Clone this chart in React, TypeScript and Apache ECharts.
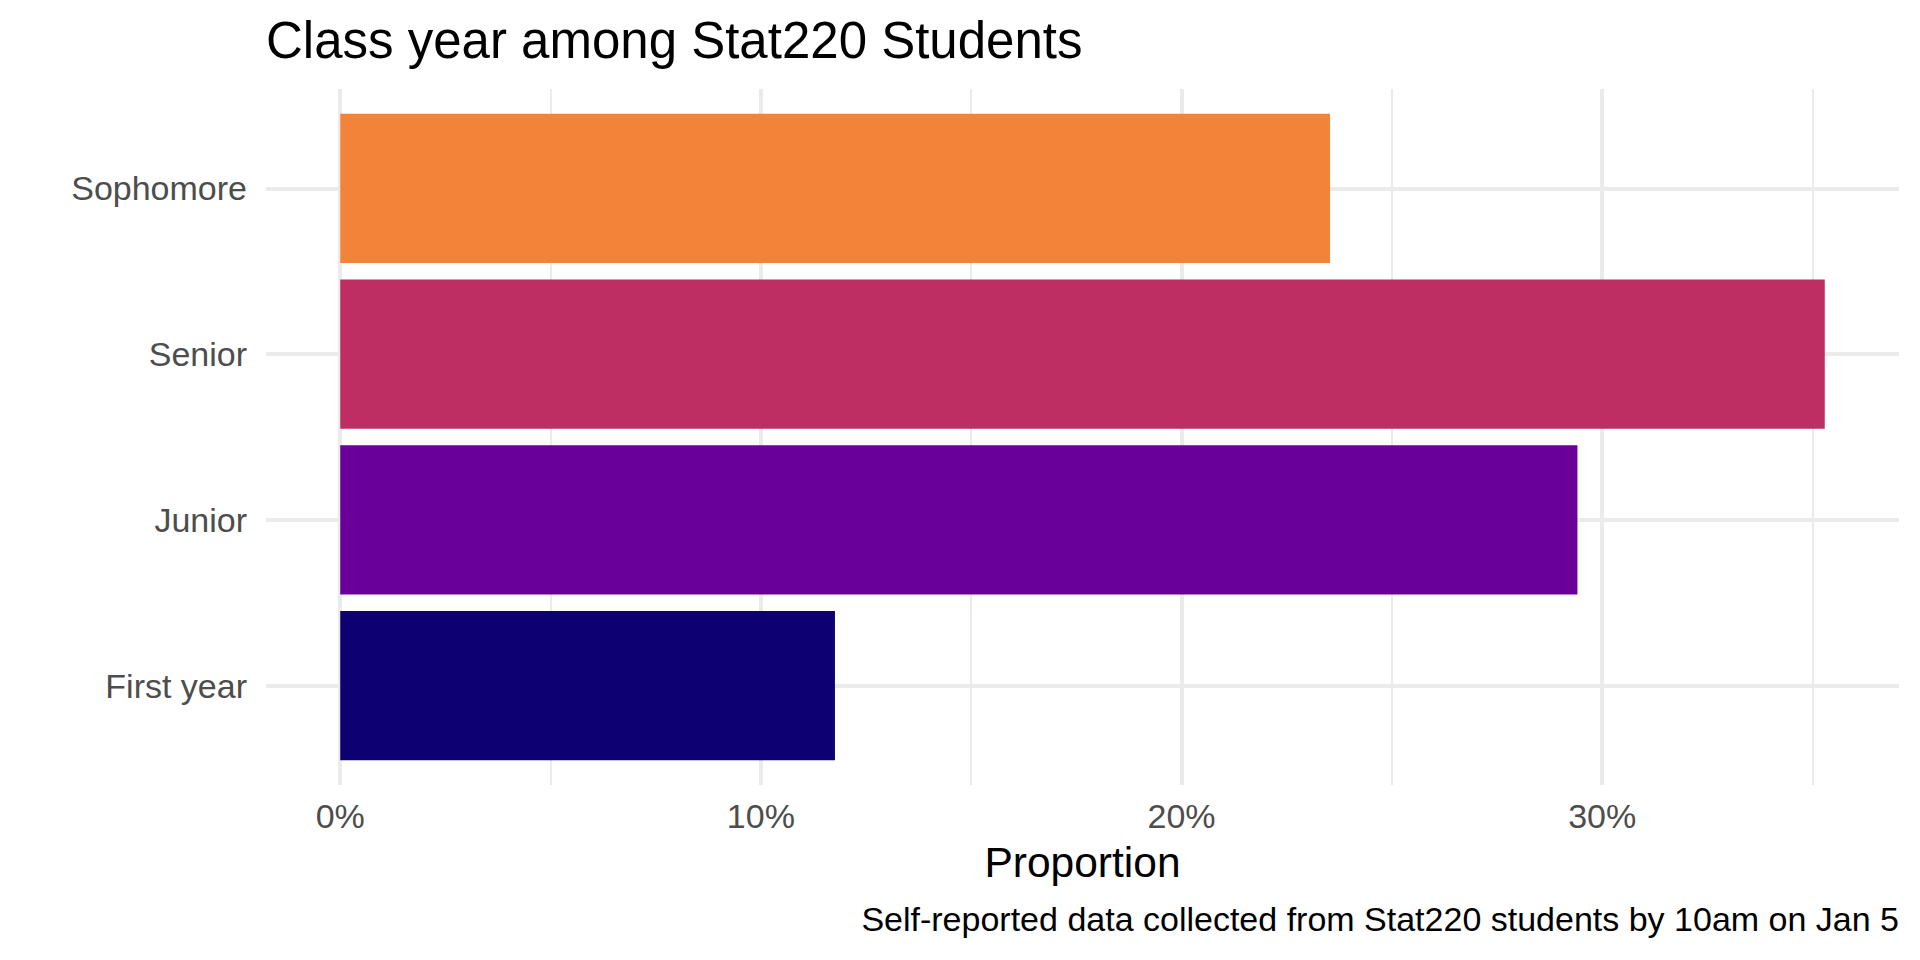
import React, { useEffect, useRef } from "react";
import * as echarts from "echarts";

const categories = ["First year", "Junior", "Senior", "Sophomore"];
const proportions = [11.76, 29.41, 35.29, 23.53];
const barColors = ["#0C0072", "#6A0099", "#BE2E62", "#F4833A"];
const majorTicks = [0, 10, 20, 30];
const minorTicks = [5, 15, 25, 35];
const categoryTicks = [0, 1, 2, 3];

const FONT = "'Liberation Sans', Arial, Helvetica, sans-serif";

export default function App() {
  const ref = useRef<HTMLDivElement>(null);

  useEffect(() => {
    if (!ref.current) return;
    const chart = echarts.init(ref.current, null, { renderer: "svg" });
    const maxVal = Math.max(...proportions);
    const xMin = -0.05 * maxVal;
    const xMax = 1.05 * maxVal;

    const data = proportions.map((v, i) => ({
      value: [v, i],
      itemStyle: { color: barColors[i] },
    }));

    chart.setOption({
      animation: false,
      backgroundColor: "#FFFFFF",
      textStyle: { fontFamily: FONT },
      title: [
        {
          text: "Class year among Stat220 Students",
          left: 266,
          top: 15,
          padding: 0,
          textStyle: {
            fontFamily: FONT,
            fontSize: 51,
            lineHeight: 51,
            fontWeight: "normal",
            color: "#000000",
          },
        },
        {
          text: "Self-reported data collected from Stat220 students by 10am on Jan 5",
          right: 21,
          top: 902,
          padding: 0,
          textStyle: {
            fontFamily: FONT,
            fontSize: 34,
            lineHeight: 34,
            fontWeight: "normal",
            color: "#000000",
          },
        },
      ],
      grid: { left: 266, right: 21, top: 89, bottom: 175, containLabel: false },
      xAxis: [
        {
          type: "value",
          min: xMin,
          max: xMax,
          name: "Proportion",
          nameLocation: "middle",
          nameGap: 56,
          nameTextStyle: {
            fontFamily: FONT,
            fontSize: 42.5,
            lineHeight: 43,
            color: "#000000",
          },
          axisLine: { show: false },
          axisTick: { show: false, customValues: majorTicks },
          axisLabel: {
            customValues: majorTicks,
            formatter: (v: number) => `${Math.round(v)}%`,
            fontFamily: FONT,
            fontSize: 34,
            lineHeight: 34,
            color: "#4D4D4D",
            margin: 14,
          },
          splitLine: { show: true, lineStyle: { color: "#EBEBEB", width: 4 } },
        },
        {
          type: "value",
          min: xMin,
          max: xMax,
          position: "bottom",
          axisLine: { show: false },
          axisTick: { show: false, customValues: minorTicks },
          axisLabel: { show: false, customValues: minorTicks },
          splitLine: { show: true, lineStyle: { color: "#EBEBEB", width: 2 } },
        },
      ],
      yAxis: {
        type: "value",
        min: -0.6,
        max: 3.6,
        axisLine: { show: false },
        axisTick: { show: false, customValues: categoryTicks },
        axisLabel: {
          customValues: categoryTicks,
          formatter: (v: number) => categories[Math.round(v)] ?? "",
          fontFamily: FONT,
          fontSize: 34,
          lineHeight: 34,
          color: "#4D4D4D",
          margin: 19,
        },
        splitLine: { show: true, lineStyle: { color: "#EBEBEB", width: 4 } },
      },
      series: [
        {
          type: "custom",
          xAxisIndex: 0,
          yAxisIndex: 0,
          encode: { x: 0, y: 1 },
          data,
          renderItem: (params: any, api: any) => {
            const v = api.value(0);
            const c = api.value(1);
            const p0 = api.coord([0, c]);
            const p1 = api.coord([v, c]);
            const h = api.size([0, 0.9])[1];
            return {
              type: "rect",
              shape: { x: p0[0], y: p0[1] - h / 2, width: p1[0] - p0[0], height: h },
              style: { fill: barColors[c] },
            };
          },
        },
      ],
    });

    return () => chart.dispose();
  }, []);

  return (
    <div
      ref={ref}
      style={{ position: "fixed", left: 0, top: 0, width: 1920, height: 960 }}
    />
  );
}
